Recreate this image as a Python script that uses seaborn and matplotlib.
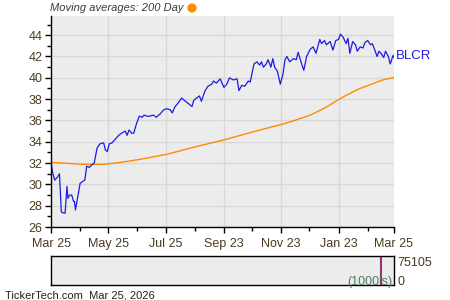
import matplotlib
matplotlib.use("Agg")
import matplotlib.pyplot as plt
import seaborn as sns
import pandas as pd
from matplotlib.ticker import FixedLocator

# ---- data ----
price_days = [0, 2, 4, 7, 9, 11, 14, 15, 17, 18, 20, 22, 24, 25, 26, 28, 31, 34, 36, 38,
              41, 43, 46, 49, 52, 56, 58, 60, 62, 65, 68, 72, 75, 79, 81, 83, 86, 88, 91, 94,
              97, 99, 102, 105, 109, 112, 116, 120, 123, 127, 129, 132, 135, 139, 143, 146, 150, 152, 155, 158,
              160, 164, 167, 171, 173, 176, 180, 184, 187, 190, 194, 198, 200, 203, 206, 210, 212, 216, 219, 222,
              224, 226, 229, 231, 234, 236, 238, 241, 244, 247, 249, 251, 254, 258, 261, 263, 266, 269, 272, 276,
              279, 282, 286, 288, 291, 293, 297, 300, 303, 306, 308, 311, 314, 316, 318, 321, 324, 326, 329, 332,
              334, 337, 340, 342, 345, 347, 349, 352, 354, 356, 359, 361, 364, 365]
price_vals = [32.0, 31.0, 30.4, 30.7, 31.0, 27.4, 27.3, 27.3, 29.8, 28.7, 29.0, 29.0, 28.4, 28.4, 27.6, 28.6, 30.1, 30.3, 30.4, 31.7,
              31.6, 31.8, 32.0, 33.4, 33.8, 33.9, 33.2, 33.1, 33.8, 33.9, 34.2, 34.6, 34.8, 35.0, 34.6, 35.1, 34.8, 34.8, 35.7, 36.4,
              36.3, 36.5, 36.4, 36.4, 36.5, 36.3, 36.6, 37.0, 37.1, 37.0, 36.7, 37.3, 37.6, 38.1, 37.8, 37.6, 37.3, 37.9, 38.1, 38.3,
              37.8, 38.8, 39.2, 39.4, 39.7, 39.5, 39.9, 39.1, 39.4, 40.0, 39.8, 39.9, 38.8, 39.3, 39.2, 39.7, 39.6, 41.3, 41.5, 41.2,
              41.5, 41.0, 41.3, 41.7, 41.0, 41.8, 41.0, 40.6, 39.4, 40.4, 41.7, 42.0, 41.5, 41.8, 41.7, 42.4, 41.5, 40.7, 42.0, 42.7,
              42.9, 42.3, 43.6, 43.2, 43.5, 43.1, 43.4, 42.6, 43.5, 43.6, 44.1, 43.8, 43.2, 43.7, 42.3, 43.4, 43.1, 42.5, 42.9, 42.8,
              43.3, 43.5, 43.1, 43.2, 42.5, 42.0, 42.5, 42.2, 41.9, 42.5, 42.0, 41.3, 42.1, 41.9]

ma_days = [0, 13, 34, 56, 71, 95, 124, 151, 183, 215, 245, 258, 276, 292, 305, 311, 326, 343, 353, 365]
ma_vals = [32.06, 32.0, 31.88, 31.88, 32.03, 32.35, 32.84, 33.47, 34.15, 34.93, 35.62, 35.96, 36.5, 37.2, 37.9,
           38.2, 38.9, 39.47, 39.8, 40.03]

tick_days = [0, 61, 122, 184, 245, 306, 365]
tick_labels = ["Mar 25", "May 25", "Jul 25", "Sep 23", "Nov 23", "Jan 23", "Mar 25"]
minor_days = [31, 92, 153, 214, 275, 337]
y_ticks = [26, 28, 30, 32, 34, 36, 38, 40, 42, 44]

volume_day = [351]
volume_max = 75105
symbol = "BLCR"

# ---- style ----
sns.set_style("white")
plt.rcParams['font.family'] = ['Liberation Sans', 'DejaVu Sans']
txt_color = "#4a3b1e"
bg = "#ececec"
grid_c = "#d8d8d8"

fig = plt.figure(figsize=(4.5, 3.0), dpi=100)
ax = fig.add_axes([51/450, 73/300, 343/450, 211/300])
ax.set_facecolor(bg)

price_df = pd.DataFrame({"day": price_days, "price": price_vals})
ma_df = pd.DataFrame({"day": ma_days, "ma": ma_vals})

sns.lineplot(data=ma_df, x="day", y="ma", ax=ax, color="#ff8c00", linewidth=1.0)
sns.lineplot(data=price_df, x="day", y="price", ax=ax, color="#1c1ce0", linewidth=0.9)

ax.set_xlim(0, 365)
ax.set_ylim(26, 45.8)
ax.xaxis.set_major_locator(FixedLocator(tick_days))
ax.xaxis.set_minor_locator(FixedLocator(minor_days))
ax.set_xticklabels(tick_labels)
ax.yaxis.set_major_locator(FixedLocator(y_ticks))
ax.yaxis.set_minor_locator(FixedLocator([t + 1 for t in y_ticks[:-1]] + [45]))
ax.grid(True, which="major", color=grid_c, linewidth=1.0)
ax.set_axisbelow(True)
ax.set_xlabel("")
ax.set_ylabel("")
for s in ["top", "right"]:
    ax.spines[s].set_visible(False)
for s in ["left", "bottom"]:
    ax.spines[s].set_color("black")
    ax.spines[s].set_linewidth(1.0)
ax.tick_params(axis="both", which="major", direction="out", length=4, width=1, color="black",
               labelsize=9, labelcolor=txt_color, pad=2, left=True, bottom=True)
ax.tick_params(axis="both", which="minor", direction="out", length=3, width=1, color="black",
               left=True, bottom=True)
ax.tick_params(axis="x", which="major", pad=4)

ax.text(367, price_vals[-1] + 0.15, symbol, color="#1c1ce0", fontsize=9.5, va="center", ha="left",
        clip_on=False)

fig.text(50/450, 1 - 8/300, "Moving averages: 200 Day", fontsize=8, style="italic",
         color="#3a3a3a", va="center", ha="left")
dot_ax = fig.add_axes([0, 0, 1, 1], facecolor="none")
dot_ax.set_axis_off()
dot_ax.set_xlim(0, 450)
dot_ax.set_ylim(300, 0)
dot_ax.scatter([192], [8], s=45, color="#ff8c00", edgecolor="none")

# ---- volume panel ----
vax = fig.add_axes([51/450, 15/300, 343/450, 29/300])
vax.set_facecolor(bg)
vax.set_xlim(0, 365)
vax.set_ylim(0, volume_max)
vax.vlines(volume_day, 0, volume_max, color="#a0306a", linewidth=1.5)
vax.set_xticks([])
vax.set_yticks([])
for s in vax.spines.values():
    s.set_visible(True)
    s.set_color("black")
    s.set_linewidth(1.0)
vax.text(1.01, 0.76, f"{volume_max}", transform=vax.transAxes, fontsize=9, color=txt_color,
         ha="left", va="center")
vax.text(1.01, 0.1, "0", transform=vax.transAxes, fontsize=9, color=txt_color,
         ha="left", va="center")
vax.text(0.995, 0.12, "(1000's)", transform=vax.transAxes, fontsize=9, color="#4f7a5f",
         ha="right", va="center")

fig.text(5/450, 1 - 295/300, "TickerTech.com  Mar 25, 2026", fontsize=8, color="#222222",
         ha="left", va="center")

fig.savefig("out.png", dpi=100)
